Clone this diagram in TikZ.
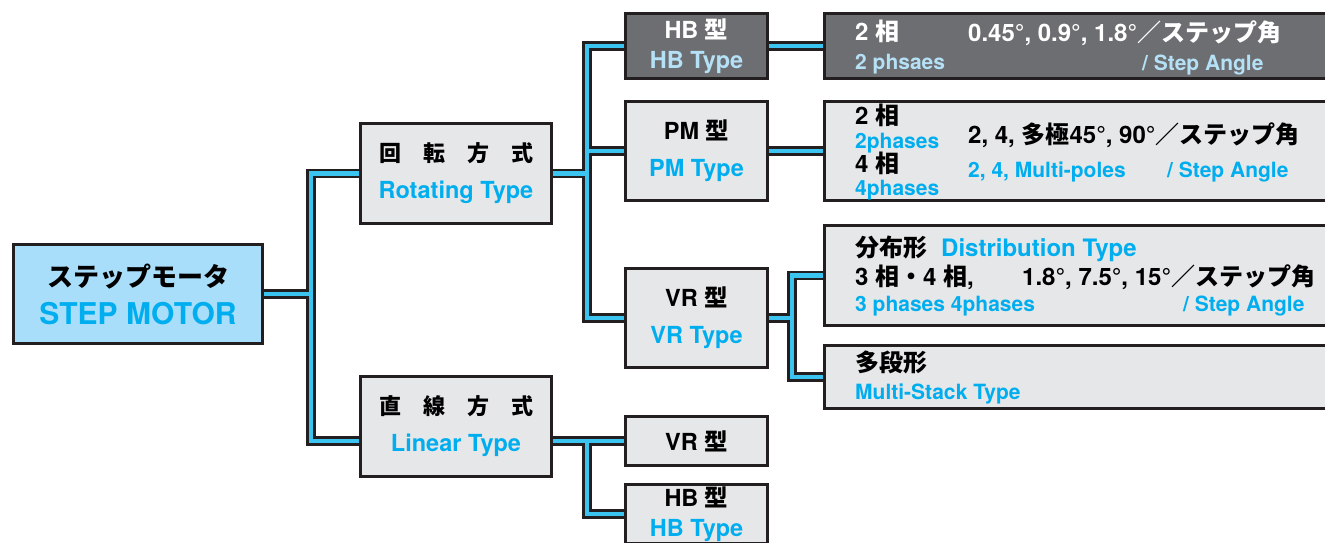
\documentclass[tikz,border=0pt]{standalone}
\usepackage{fontspec}
\setmainfont{TeX Gyre Heros}
\newfontfamily\jp{Noto Sans CJK JP}
\usepackage{xcolor}
\usepackage{tikz}
\newcommand{\ja}[1]{{\jp\bfseries #1}}
\definecolor{ink}{RGB}{35,31,32}
\definecolor{panel}{RGB}{230,231,232}
\definecolor{sky}{RGB}{168,222,249}
\definecolor{slate}{RGB}{109,110,113}
\definecolor{wire}{RGB}{60,196,240}
\definecolor{cyantext}{RGB}{0,174,239}
\definecolor{pale}{RGB}{181,225,247}
\tikzstyle{kind} = [rectangle, draw=ink, line width=3pt, fill=panel,
inner sep=0pt, outer sep=1.5pt,
minimum width=142pt,
text centered, align=center,
font=\bfseries\fontsize{23.5}{37}\selectfont]
\tikzstyle{root} = [kind, fill=sky, minimum width=249pt, minimum height=99pt,
font=\bfseries\fontsize{30}{38}\selectfont]
\tikzstyle{family} = [kind, minimum width=191pt, minimum height=100pt]
\tikzstyle{spec} = [kind, minimum width=514pt]
\tikzstyle{dark} = [fill=slate]
\tikzstyle{note} = [anchor=west, inner sep=0pt, text height=17pt, text depth=0pt,
font=\bfseries\fontsize{24}{24}\selectfont]
\tikzstyle{sub} = [note, text=cyantext, text height=15pt,
font=\bfseries\fontsize{21}{21}\selectfont]
\tikzstyle{link} = [line join=miter]

\begin{document}
\begin{tikzpicture}[x=1pt, y=-1pt]
            \useasboundingbox (0,0) rectangle (1325,543);

            % tree boxes
            \node (motor) [root] at (138,294) {\ja{\fontsize{26}{38}\selectfont ステップモータ}\\\textcolor{cyantext}{STEP MOTOR}};
            \node (rot) [family] at (456,173.5) {\ja{\fontsize{22}{37}\selectfont 回　転　方　式}\\\textcolor{cyantext}{Rotating Type}};
            \node (lin) [family] at (456,426) {\ja{\fontsize{22}{37}\selectfont 直　線　方　式}\\\textcolor{cyantext}{Linear Type}};

            \node (hb)  [kind, dark, minimum height=65pt] at (696.5,46) {\textcolor{white}{HB \ja{型}}\\[-7pt]\textcolor{pale}{HB Type}};
            \node (pm)  [kind, minimum height=99pt] at (696.5,151) {PM \ja{型}\\\textcolor{cyantext}{PM Type}};
            \node (vr)  [kind, minimum height=99pt] at (696.5,318) {VR \ja{型}\\\textcolor{cyantext}{VR Type}};
            \node (vrl) [kind, minimum height=49pt] at (696.5,441) {VR \ja{型}};
            \node (hbl) [kind, minimum height=59pt] at (696.5,514) {HB \ja{型}\\[-7pt]\textcolor{cyantext}{HB Type}};

            \node (hbd)   [spec, dark, minimum height=65pt] at (1081.5,46) {};
            \node (pmd)   [spec, minimum height=99pt] at (1081.5,151) {};
            \node (dist)  [spec, minimum height=100pt] at (1081.5,275.5) {};
            \node (multi) [spec, minimum height=63pt] at (1081.5,377) {};

            % texts of the spec boxes
            \node (hbdph) [note, text=white] at (855,32) {2 \ja{相}};
            \node (hbdan) [note, text=white] at (968,33) {0.45°, 0.9°, 1.8°\ja{／ステップ角}};
            \node (hbdphe) [sub, text=pale] at (855,62) {2 phsaes};
            \node (hbdane) [sub, text=pale] at (1142,63) {/ Step Angle};

            \node (pmdph2) [note] at (855,116) {2 \ja{相}};
            \node (pmdph2e) [sub] at (855,140.5) {2phases};
            \node (pmdph4) [note] at (855,164) {4 \ja{相}};
            \node (pmdph4e) [sub] at (855,188) {4phases};
            \node (pmdan) [note] at (968,135) {2, 4, \ja{多極}45°, 90°\ja{／ステップ角}};
            \node (pmdpo) [sub] at (968,170) {2, 4, Multi-poles};
            \node (pmdane) [sub] at (1167,170) {/ Step Angle};

            \node (distkind) [note] at (855,248) {\ja{分布形}};
            \node (distkinde) [note, text=cyantext] at (941,248) {Distribution Type};
            \node (distph) [note] at (855,277) {3 \ja{相・}4 \ja{相},};
            \node (distan) [note] at (1022,277) {1.8°, 7.5°, 15°\ja{／ステップ角}};
            \node (distphe) [sub] at (855,304) {3 phases 4phases};
            \node (distane) [sub] at (1183,304) {/ Step Angle};

            \node (multikind) [note] at (855,363) {\ja{多段形}};
            \node (multikinde) [sub] at (855,392) {Multi-Stack Type};

            % junctions
            \coordinate (j1) at (311,294);
            \coordinate (j2) at (587,173.5);
            \coordinate (j3) at (792,318);
            \coordinate (j4) at (587,441);

            % connectors: black edge first, cyan core on top
            \foreach \w/\c in {9.5pt/ink, 4.5pt/wire}
            {
                \draw [link, line width=\w, \c] (motor.east) -- (j1)
                    (rot.west) -| (j1) |- ([yshift=-15pt]lin.west);
                \draw [link, line width=\w, \c] (rot.east) -- (j2)
                    (hb.west) -| (j2) |- (vr.west)
                    (pm.west) -- (pm.west -| j2);
                \draw [link, line width=\w, \c] (hb.east) -- (hbd.west)
                    (pm.east) -- (pmd.west);
                \draw [link, line width=\w, \c] (vr.east) -- (j3)
                    (dist.west) -| (j3) |- (multi.west);
                \draw [link, line width=\w, \c] ([yshift=-15pt]lin.east) -- (vrl.west)
                    (j4) |- (hbl.west);
            }
\end{tikzpicture}
\end{document}
